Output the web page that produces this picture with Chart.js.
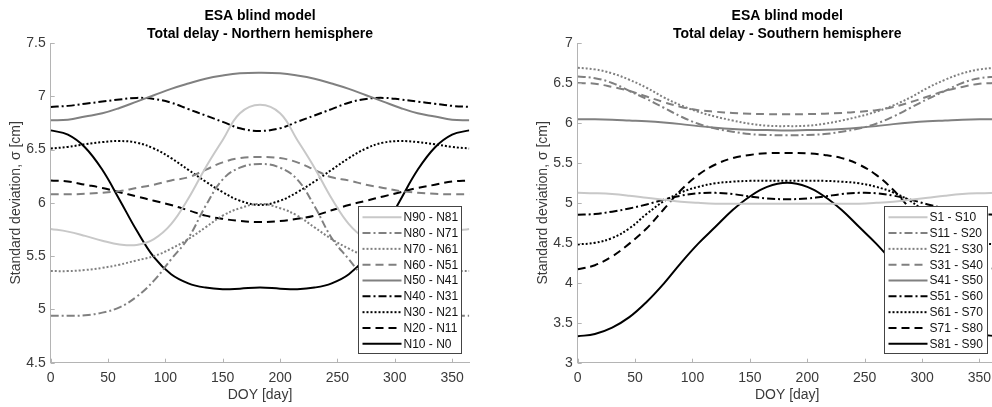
<!DOCTYPE html>
<html lang="en">
<head>
<meta charset="UTF-8">
<title>ESA blind model - total delay</title>
<script src="https://cdn.jsdelivr.net/npm/chart.js"></script>
<style>
  body { margin: 0; background: #fff; overflow: hidden; width: 992px; height: 407px; position: relative; }
  canvas { position: absolute; top: 0; }
  #north { left: 0; }
  #south { left: 496px; }
</style>
</head>
<body>
<canvas id="north" width="496" height="407"></canvas>
<canvas id="south" width="510" height="407"></canvas>
<script>
// day of year samples
const days = [0, 15, 30, 45, 60, 75, 90, 105, 120, 135, 150, 165, 182.5, 200, 215, 230, 245, 260, 275, 290, 305, 320, 335, 350, 365];

// Northern hemisphere, sigma [cm]
const n90_81 = [5.755, 5.73, 5.69, 5.645, 5.61, 5.605, 5.66, 5.80, 6.04, 6.33, 6.59, 6.84, 6.92, 6.84, 6.59, 6.33, 6.04, 5.80, 5.66, 5.605, 5.61, 5.645, 5.69, 5.73, 5.755];
const n80_71 = [4.94, 4.94, 4.945, 4.97, 5.02, 5.12, 5.27, 5.47, 5.67, 5.97, 6.22, 6.33, 6.365, 6.33, 6.22, 5.97, 5.67, 5.47, 5.27, 5.12, 5.02, 4.97, 4.945, 4.94, 4.94];
const n70_61 = [5.36, 5.36, 5.37, 5.39, 5.42, 5.46, 5.50, 5.57, 5.66, 5.77, 5.88, 5.95, 5.99, 5.95, 5.88, 5.77, 5.66, 5.57, 5.50, 5.46, 5.42, 5.39, 5.37, 5.36, 5.36];
const n60_51 = [6.08, 6.08, 6.085, 6.095, 6.11, 6.14, 6.17, 6.21, 6.24, 6.31, 6.38, 6.42, 6.43, 6.42, 6.38, 6.31, 6.24, 6.21, 6.17, 6.14, 6.11, 6.095, 6.085, 6.08, 6.08];
const n50_41 = [6.775, 6.78, 6.81, 6.84, 6.89, 6.95, 7.01, 7.07, 7.12, 7.165, 7.195, 7.215, 7.22, 7.215, 7.195, 7.165, 7.12, 7.07, 7.01, 6.95, 6.89, 6.84, 6.81, 6.78, 6.775];
const n40_31 = [6.90, 6.91, 6.93, 6.95, 6.97, 6.985, 6.975, 6.94, 6.88, 6.82, 6.76, 6.70, 6.675, 6.70, 6.76, 6.82, 6.88, 6.94, 6.975, 6.985, 6.97, 6.95, 6.93, 6.91, 6.90];
const n30_21 = [6.51, 6.525, 6.55, 6.57, 6.58, 6.565, 6.51, 6.42, 6.31, 6.20, 6.10, 6.02, 5.98, 6.02, 6.10, 6.20, 6.31, 6.42, 6.51, 6.565, 6.58, 6.57, 6.55, 6.525, 6.51];
const n20_11 = [6.21, 6.20, 6.17, 6.14, 6.10, 6.06, 6.02, 5.98, 5.93, 5.88, 5.85, 5.83, 5.82, 5.83, 5.85, 5.88, 5.93, 5.98, 6.02, 6.06, 6.10, 6.14, 6.17, 6.20, 6.21];
const n10_0  = [6.68, 6.64, 6.52, 6.31, 6.03, 5.74, 5.49, 5.33, 5.245, 5.205, 5.19, 5.195, 5.205, 5.195, 5.19, 5.205, 5.245, 5.33, 5.49, 5.74, 6.03, 6.31, 6.52, 6.64, 6.68];

// Southern hemisphere, sigma [cm]
const s1_10  = [5.125, 5.12, 5.11, 5.09, 5.065, 5.04, 5.015, 5.00, 4.99, 4.99, 4.99, 4.99, 4.99, 4.99, 4.99, 4.99, 4.99, 5.00, 5.015, 5.04, 5.065, 5.09, 5.11, 5.12, 5.125];
const s11_20 = [6.58, 6.56, 6.50, 6.40, 6.30, 6.19, 6.08, 5.99, 5.93, 5.89, 5.86, 5.85, 5.845, 5.85, 5.86, 5.89, 5.93, 5.99, 6.08, 6.19, 6.30, 6.40, 6.50, 6.56, 6.58];
const s21_30 = [6.69, 6.67, 6.62, 6.54, 6.44, 6.32, 6.22, 6.14, 6.08, 6.03, 5.99, 5.965, 5.96, 5.965, 5.99, 6.03, 6.08, 6.14, 6.22, 6.32, 6.44, 6.54, 6.62, 6.67, 6.69];
const s31_40 = [6.50, 6.49, 6.45, 6.40, 6.33, 6.26, 6.20, 6.16, 6.14, 6.125, 6.115, 6.11, 6.11, 6.11, 6.115, 6.125, 6.14, 6.16, 6.20, 6.26, 6.33, 6.40, 6.45, 6.49, 6.50];
const s41_50 = [6.045, 6.045, 6.04, 6.03, 6.02, 6.005, 5.985, 5.96, 5.94, 5.925, 5.915, 5.91, 5.905, 5.91, 5.915, 5.925, 5.94, 5.96, 5.985, 6.005, 6.02, 6.03, 6.04, 6.045, 6.045];
const s51_60 = [4.85, 4.86, 4.89, 4.93, 4.98, 5.04, 5.09, 5.12, 5.125, 5.11, 5.08, 5.055, 5.045, 5.055, 5.08, 5.11, 5.125, 5.12, 5.09, 5.04, 4.98, 4.93, 4.89, 4.86, 4.85];
const s61_70 = [4.48, 4.50, 4.56, 4.68, 4.86, 5.02, 5.13, 5.20, 5.245, 5.265, 5.275, 5.275, 5.275, 5.275, 5.275, 5.265, 5.245, 5.20, 5.13, 5.02, 4.86, 4.68, 4.56, 4.50, 4.48];
const s71_80 = [4.17, 4.22, 4.33, 4.49, 4.68, 4.92, 5.16, 5.35, 5.48, 5.56, 5.60, 5.62, 5.625, 5.62, 5.60, 5.56, 5.48, 5.35, 5.16, 4.92, 4.68, 4.49, 4.33, 4.22, 4.17];
const s81_90 = [3.33, 3.36, 3.44, 3.57, 3.76, 3.99, 4.25, 4.49, 4.70, 4.91, 5.08, 5.20, 5.25, 5.20, 5.08, 4.91, 4.70, 4.49, 4.25, 3.99, 3.76, 3.57, 3.44, 3.36, 3.33];

const northLabels = ['N90 - N81', 'N80 - N71', 'N70 - N61', 'N60 - N51', 'N50 - N41', 'N40 - N31', 'N30 - N21', 'N20 - N11', 'N10 - N0'];
const southLabels = ['S1 - S10', 'S11 - S20', 'S21 - S30', 'S31 - S40', 'S41 - S50', 'S51 - S60', 'S61 - S70', 'S71 - S80', 'S81 - S90'];
const xTicks = [0, 50, 100, 150, 200, 250, 300, 350];

const FONT = "'Liberation Sans', Arial, Helvetica, sans-serif";
const AXIS = '#b4b4b4';
const TEXT = '#3a3a3a';

// line styles, same order for both hemispheres
const styles = [
  { color: '#c8c8c8', dash: [] },
  { color: '#808080', dash: [8, 3, 2, 3] },
  { color: '#808080', dash: [2, 2] },
  { color: '#808080', dash: [8, 5] },
  { color: '#808080', dash: [] },
  { color: '#000000', dash: [8, 3, 2, 3] },
  { color: '#000000', dash: [2, 2] },
  { color: '#000000', dash: [8, 5] },
  { color: '#000000', dash: [] }
];

function makeDatasets(labels, series) {
  return series.map((vals, i) => ({
    label: labels[i],
    data: days.map((d, k) => ({ x: d, y: vals[k] })),
    borderColor: styles[i].color,
    borderDash: styles[i].dash,
    borderWidth: 2,
    pointRadius: 0,
    fill: false,
    tension: 0.4
  }));
}

// titles, inward ticks and MATLAB-like legend
const extras = {
  id: 'extras',
  afterDraw(chart, args, opts) {
    const ctx = chart.ctx;
    const a = chart.chartArea;
    const xs = chart.scales.x, ys = chart.scales.y;
    ctx.save();
    ctx.strokeStyle = AXIS;
    ctx.lineWidth = 1;
    ctx.setLineDash([]);
    xs.ticks.forEach(t => {
      const px = Math.round(xs.getPixelForValue(t.value)) + 0.5;
      ctx.beginPath(); ctx.moveTo(px, a.bottom); ctx.lineTo(px, a.bottom - 4); ctx.stroke();
    });
    ys.ticks.forEach(t => {
      const py = Math.round(ys.getPixelForValue(t.value)) + 0.5;
      ctx.beginPath(); ctx.moveTo(a.left, py); ctx.lineTo(a.left + 4, py); ctx.stroke();
    });

    // title
    ctx.fillStyle = '#000';
    ctx.font = 'bold 14px ' + FONT;
    ctx.textAlign = 'center';
    ctx.textBaseline = 'middle';
    const cx = (a.left + a.right) / 2;
    opts.title.forEach((line, i) => ctx.fillText(line, cx, 16 + i * 18));

    // legend
    const w = 103, h = 147;
    const bx = Math.round(a.right - opts.inset - w) + 0.5;
    const by = Math.round(a.bottom - 9.5 - h) + 0.5;
    ctx.fillStyle = '#fff';
    ctx.fillRect(bx, by, w, h);
    ctx.strokeStyle = '#444';
    ctx.strokeRect(bx, by, w, h);
    ctx.font = '12px ' + FONT;
    ctx.textAlign = 'left';
    chart.data.datasets.forEach((ds, i) => {
      const y = by + 10.7 + i * 15.83;
      ctx.strokeStyle = ds.borderColor;
      ctx.lineWidth = 2;
      ctx.setLineDash(ds.borderDash);
      ctx.beginPath(); ctx.moveTo(bx + 4, y); ctx.lineTo(bx + 43, y); ctx.stroke();
      ctx.fillStyle = '#111';
      ctx.fillText(ds.label, bx + 45, y + 0.5);
    });
    ctx.restore();
  }
};

function makeChart(id, labels, series, yMin, yMax, title, pad, inset) {
  return new Chart(document.getElementById(id), {
    type: 'line',
    data: { datasets: makeDatasets(labels, series) },
    plugins: [extras],
    options: {
      responsive: false,
      animation: false,
      devicePixelRatio: 1,
      layout: { padding: pad },
      plugins: {
        legend: { display: false },
        tooltip: { enabled: false },
        extras: { title: title, inset: inset }
      },
      scales: {
        x: {
          type: 'linear',
          min: 0, max: 365,
          afterFit: s => { s.height = 44.3; },
          afterBuildTicks: s => { s.ticks = xTicks.map(v => ({ value: v })); },
          grid: { display: false, drawTicks: false },
          border: { display: true, color: AXIS, width: 1 },
          ticks: { color: TEXT, padding: 7, font: { family: FONT, size: 14 } },
          title: { display: true, text: 'DOY [day]', color: TEXT, padding: { top: 0, bottom: 3.6 }, font: { family: FONT, size: 14 } }
        },
        y: {
          min: yMin, max: yMax,
          afterFit: s => { s.width = 50.7; },
          grid: { display: false, drawTicks: false },
          border: { display: true, color: AXIS, width: 1 },
          ticks: {
            color: TEXT, padding: 5, stepSize: 0.5, font: { family: FONT, size: 14 },
            callback: v => String(Math.round(v * 10) / 10)
          },
          title: { display: true, text: 'Standard deviation, σ [cm]', color: TEXT, padding: { top: 7.6, bottom: 0 }, font: { family: FONT, size: 14 } }
        }
      }
    }
  });
}

makeChart('north', northLabels,
  [n90_81, n80_71, n70_61, n60_51, n50_41, n40_31, n30_21, n20_11, n10_0],
  4.5, 7.5, ['ESA blind model', 'Total delay - Northern hemisphere'],
  { top: 43, right: 26.7, left: 0, bottom: 0 }, 8.3);

makeChart('south', southLabels,
  [s1_10, s11_20, s21_30, s31_40, s41_50, s51_60, s61_70, s71_80, s81_90],
  3, 7, ['ESA blind model', 'Total delay - Southern hemisphere'],
  { top: 43, right: 9.3, left: 31, bottom: 0 }, 10);
</script>
</body>
</html>
